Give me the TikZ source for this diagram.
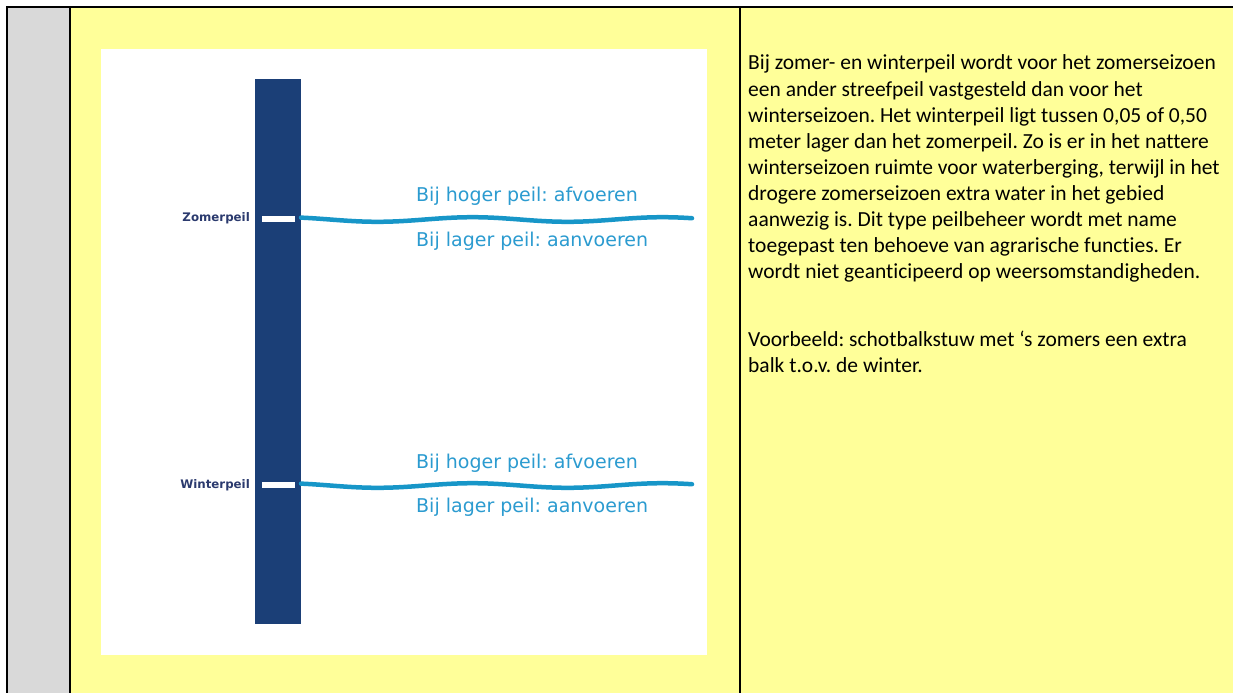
\documentclass[tikz,border=0pt]{standalone}
\usepackage{fontspec}
\setmainfont{Carlito}[Ligatures=NoCommon]
\newfontfamily\verd{DejaVu Sans}
\frenchspacing
\definecolor{cellgray}{HTML}{D9D9D9}
\definecolor{cellyel}{HTML}{FFFF99}
\definecolor{barblue}{HTML}{1B3F77}
\definecolor{wavec}{HTML}{1796C8}
\definecolor{lbltxt}{HTML}{2B9BD0}
\definecolor{navy}{HTML}{2B3A6E}
\tikzset{
  peillabel/.style={font=\verd\bfseries\fontsize{11.8}{13}\selectfont, text=navy, inner sep=0pt},
  flowlabel/.style={font=\verd\fontsize{19}{22}\selectfont, text=lbltxt, inner sep=0pt},
  bodytext/.style={font=\fontsize{21.5}{26}\selectfont, text=black, inner sep=0pt, anchor=base west},
  wave/.style={wavec, line width=4.5pt, line cap=round},
  grid/.style={black, line width=2.5pt}
}
\begin{document}
\frenchspacing
\begin{tikzpicture}[x=1pt,y=-1pt]
\useasboundingbox (0,0) rectangle (1233,693);
\fill[white] (0,0) rectangle (1233,693);
\fill[cellgray] (7,7) rectangle (70,693);
\fill[cellyel] (70,7) rectangle (1233,693);
% picture
\fill[white] (101,49) rectangle (707,655);
\fill[barblue] (255,79) rectangle (301,624);
\draw[wave] plot[domain=301:692, samples=80] (\x, {219.5 + 2.3*sin((\x-330)/190*360)});
\draw[wave] plot[domain=301:692, samples=80] (\x, {485.5 + 2.3*sin((\x-330)/190*360)});
\fill[white] (262,216) rectangle (295,222);
\fill[white] (262,482) rectangle (295,488);
\node[peillabel, anchor=east] (zp) at (250,218) {Zomerpeil};
\node[peillabel, anchor=east] (wp) at (250,485) {Winterpeil};
\node[flowlabel, anchor=west] (zh) at (416,196) {Bij hoger peil: afvoeren};
\node[flowlabel, anchor=west] (zl) at (416,241) {Bij lager peil: aanvoeren};
\node[flowlabel, anchor=west] (wh) at (416,463) {Bij hoger peil: afvoeren};
\node[flowlabel, anchor=west] (wl) at (416,507) {Bij lager peil: aanvoeren};
% text
\node[bodytext] (t1) at (748,70) {Bij zomer- en winterpeil wordt voor het zomerseizoen};
\node[bodytext] (t2) at (748,96) {een ander streefpeil vastgesteld dan voor het};
\node[bodytext] (t3) at (748,122) {winterseizoen. Het winterpeil ligt tussen 0,05 of 0,50};
\node[bodytext] (t4) at (748,148) {meter lager dan het zomerpeil. Zo is er in het nattere};
\node[bodytext] (t5) at (748,174) {winterseizoen ruimte voor waterberging, terwijl in het};
\node[bodytext] (t6) at (748,200) {drogere zomerseizoen extra water in het gebied};
\node[bodytext] (t7) at (748,226) {aanwezig is. Dit type peilbeheer wordt met name};
\node[bodytext] (t8) at (748,252) {toegepast ten behoeve van agrarische functies. Er};
\node[bodytext] (t9) at (748,278) {wordt niet geanticipeerd op weersomstandigheden.};
\node[bodytext] (v1) at (748,346) {Voorbeeld: schotbalkstuw met ‘s zomers een extra};
\node[bodytext] (v2) at (748,372) {balk t.o.v. de winter.};
% grid lines
\draw[grid] (1233,7) -- (7,7) -- (7,693);
\draw[grid] (70,7) -- (70,693);
\draw[grid] (740,7) -- (740,693);
\end{tikzpicture}
\end{document}
